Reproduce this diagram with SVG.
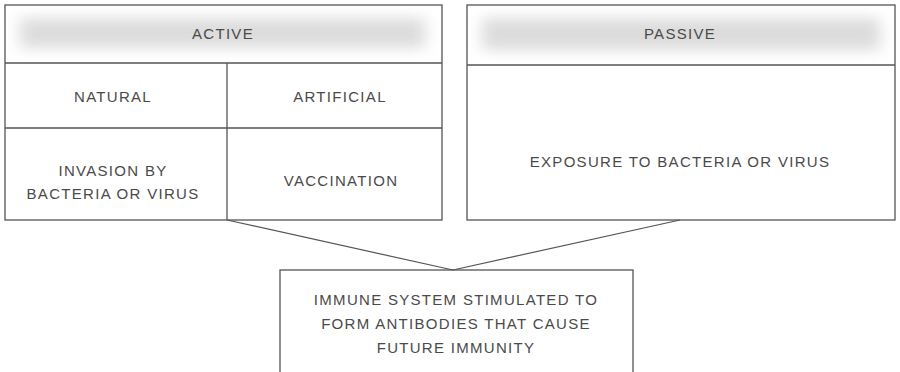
<svg xmlns="http://www.w3.org/2000/svg" width="900" height="372" viewBox="0 0 900 372">
<defs>
<filter id="blur" x="-10%" y="-60%" width="120%" height="220%"><feGaussianBlur stdDeviation="8 7"/></filter>
<style>
.box{fill:none;stroke:#555;stroke-width:1.3}
.t{font-family:"Liberation Sans",Arial,sans-serif;font-size:15px;letter-spacing:1.3px;fill:#4a4a4a;text-anchor:middle}
.band{fill:#dcdcdc;filter:url(#blur)}
.conn{fill:none;stroke:#555;stroke-width:1.2}
</style>
</defs>
<rect width="900" height="372" fill="#fff"/>
<g id="active">
<rect class="band" x="20" y="18" width="405" height="30"/>
<rect class="box" x="5" y="5" width="437" height="215"/>
<line class="box" x1="5" y1="63" x2="442" y2="63"/>
<line class="box" x1="5" y1="128" x2="442" y2="128"/>
<line class="box" x1="227" y1="63" x2="227" y2="220"/>
<text class="t" x="223" y="39">ACTIVE</text>
<text class="t" x="113" y="102">NATURAL</text>
<text class="t" x="340" y="102">ARTIFICIAL</text>
<text class="t" x="113" y="176">INVASION BY</text>
<text class="t" x="113" y="199">BACTERIA OR VIRUS</text>
<text class="t" x="341" y="186">VACCINATION</text>
</g>
<g id="passive">
<rect class="band" x="482" y="18" width="398" height="32"/>
<rect class="box" x="467" y="5" width="428" height="215"/>
<line class="box" x1="467" y1="65" x2="895" y2="65"/>
<text class="t" x="680" y="39">PASSIVE</text>
<text class="t" x="680" y="167">EXPOSURE TO BACTERIA OR VIRUS</text>
</g>
<g id="result">
<rect class="box" x="280" y="270" width="353" height="110"/>
<text class="t" x="456" y="305">IMMUNE SYSTEM STIMULATED TO</text>
<text class="t" x="456" y="329">FORM ANTIBODIES THAT CAUSE</text>
<text class="t" x="456" y="353">FUTURE IMMUNITY</text>
</g>
<g id="connectors">
<line class="conn" x1="227" y1="220" x2="453" y2="270"/>
<line class="conn" x1="680" y1="220" x2="453" y2="270"/>
</g>
</svg>
